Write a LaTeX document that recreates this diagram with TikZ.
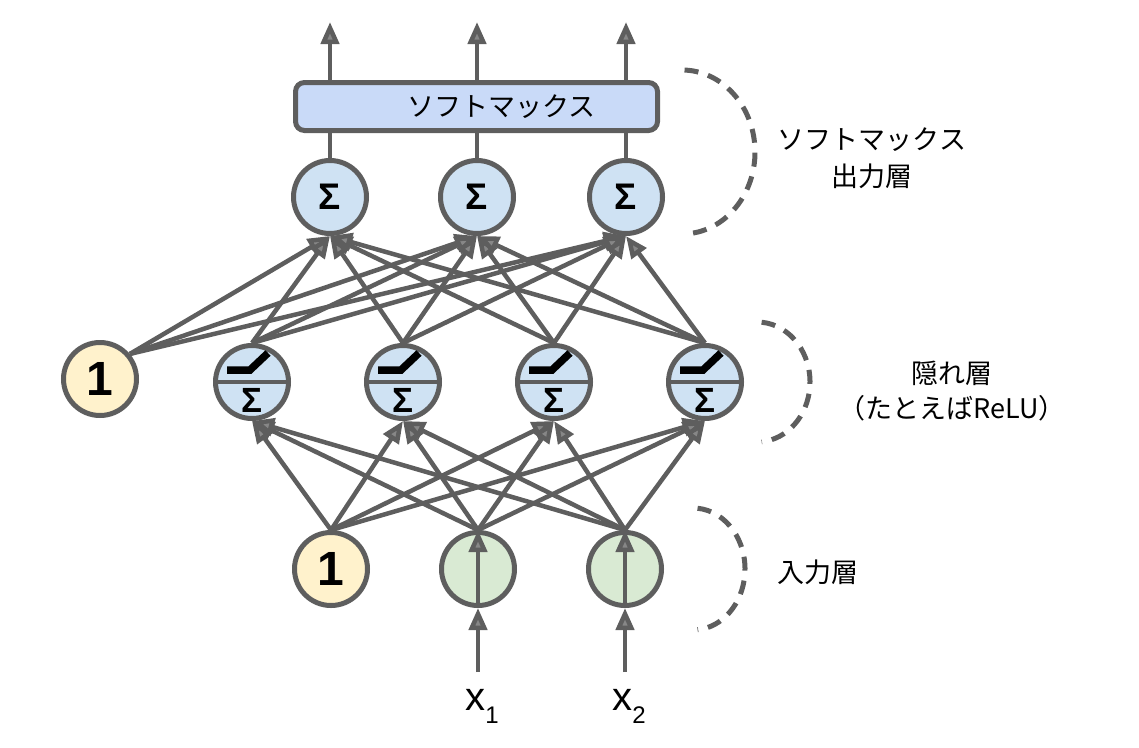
\documentclass[tikz,border=0pt]{standalone}
\usepackage{fontspec}
\setmainfont{Liberation Sans}
\newfontfamily\jpfont{Noto Sans CJK JP}
\newfontfamily\arialfont{Liberation Sans}
\usetikzlibrary{arrows.meta}
\colorlet{edgegray}{black!63}
\definecolor{sigmablue}{HTML}{CFE2F3}
\definecolor{boxblue}{HTML}{C9DAF8}
\definecolor{biasyellow}{HTML}{FFF2CC}
\definecolor{inputgreen}{HTML}{D9EAD3}

\tikzset{
	neuron/.style={circle, draw=edgegray, line width=5pt, minimum size=73pt, inner sep=0pt},
	sumnode/.style={neuron, fill=sigmablue, font=\fontsize{37}{37}\selectfont\bfseries},
	hiddennode/.style={neuron, fill=sigmablue,
		label={[font=\fontsize{35}{35}\selectfont\bfseries, yshift=-18pt]center:Σ}},
	biasnode/.style={neuron, fill=biasyellow, font=\fontsize{48}{48}\selectfont\bfseries},
	inputnode/.style={neuron, fill=inputgreen},
	softbox/.style={draw=edgegray, line width=5pt, fill=boxblue, rounded corners=9pt,
		minimum width=362pt, minimum height=48pt, inner sep=0pt},
	conn/.style={draw=edgegray, line width=4.5pt,
		-{Triangle[length=22pt, width=18pt, fill=edgegray!75!white]}},
	plain/.style={draw=edgegray, line width=4.5pt},
	relu/.style={draw=black, line width=7.5pt},
	layerarc/.style={draw=edgegray, line width=5pt, dash pattern=on 14pt off 10pt},
	layerlabel/.style={font=\jpfont\fontsize{27}{37}\selectfont, align=center},
	xlabel/.style={font=\arialfont\fontsize{40}{40}\selectfont, inner sep=0pt}
}

\begin{document}
\begin{tikzpicture}[x=1pt, y=-1pt]
	\useasboundingbox (0,0) rectangle (1139,747);
	% softmax box and output layer
	\node[softbox, label={[font=\jpfont\fontsize{27}{27}\selectfont, xshift=25pt]center:ソフトマックス}] (sm) at (476.5,106.5) {};
	\foreach \i/\x in {1/330, 2/477, 3/626} {
		\node[sumnode] (o\i) at (\x,197) {Σ};
		\coordinate (y\i) at (\x,22);
		\draw[plain] (o\i.north) -- (o\i.north |- sm.south);
		\draw[conn] (o\i.north |- sm.north) -- (y\i);
	}
	% hidden layer
	\node[biasnode] (hb) at (100,379) {1};
	\foreach \i/\x in {1/252, 2/403, 3/554, 4/705} {
		\node[hiddennode] (h\i) at (\x,382) {};
		\draw[edgegray, line width=4.5pt] (h\i.west) -- (h\i.east);
		\draw[relu] ([shift={(-25,-12)}]h\i.center) -- ++(23,0) -- ++(18,-17);
	}
	% input layer
	\node[biasnode] (ib) at (331,569) {1};
	\node[inputnode] (x1) at (478,569) {};
	\node[inputnode] (x2) at (625,569) {};
	\coordinate (in1) at (478,672);
	\coordinate (in2) at (625,672);
	\node[xlabel] (lx1) at (482,706) {x\raisebox{-13pt}{\fontsize{24}{24}\selectfont 1}};
	\node[xlabel] (lx2) at (629,706) {x\raisebox{-13pt}{\fontsize{24}{24}\selectfont 2}};
	\foreach \i in {1,2} {
		\draw[conn] (in\i) -- (x\i.south);
		\draw[conn] (x\i.south) -- (x\i.north);
	}
	% connections
	\foreach \s in {ib, x1, x2}
		\foreach \t in {h1, h2, h3, h4}
			\draw[conn] (\s.north) -- (\t.south);
	\foreach \t in {o1, o2, o3} {
		\draw[conn] (hb.40) -- (\t.south);
		\foreach \s in {h1, h2, h3, h4}
			\draw[conn] (\s.north) -- (\t.south);
	}
	% layer brackets
	\draw[layerarc] (682,152) ++(-88:73 and 82) arc[start angle=-88, end angle=85, x radius=73, y radius=82];
	\draw[layerarc] (757,382) ++(-85:53 and 60) arc[start angle=-85, end angle=85, x radius=53, y radius=60];
	\draw[layerarc] (693,569) ++(-85:52 and 61) arc[start angle=-85, end angle=85, x radius=52, y radius=61];
	\node[layerlabel] (lout) at (872,158) {ソフトマックス\\出力層};
	\node[layerlabel, font=\jpfont\fontsize{27}{35}\selectfont] (lhid) at (952,391) {隠れ層\\（たとえばReLU）};
	\node[layerlabel] (lin) at (818,572) {入力層};
\end{tikzpicture}
\end{document}
